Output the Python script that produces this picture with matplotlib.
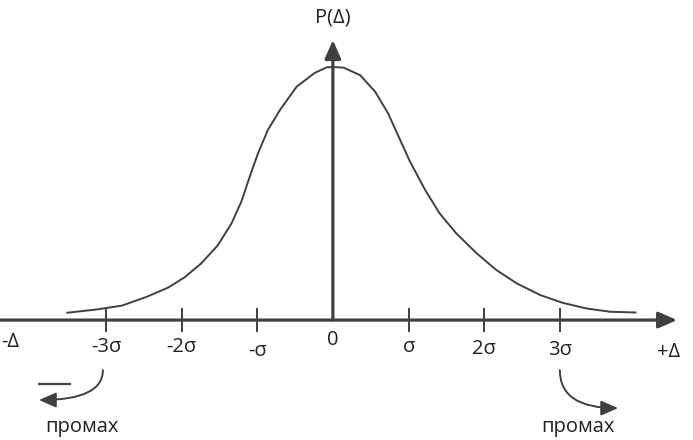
import numpy as np
import matplotlib
matplotlib.use("Agg")
import matplotlib.pyplot as plt

# curve, x in sigma units, height relative to peak
x_sigma = [-3.51, -3.12, -2.79, -2.46, -2.18, -1.96, -1.74, -1.52, -1.34, -1.21,
           -1.10, -0.99, -0.86, -0.70, -0.48, -0.24, -0.08, 0.00, 0.14, 0.36,
           0.56, 0.73, 0.89, 1.02, 1.22, 1.41, 1.63, 1.90, 2.16, 2.43,
           2.74, 3.04, 3.35, 3.66, 4.00]
p_vals = [0.029, 0.042, 0.057, 0.092, 0.128, 0.169, 0.224, 0.296, 0.382, 0.468,
          0.566, 0.659, 0.751, 0.830, 0.922, 0.977, 0.999, 1.000, 0.998, 0.968,
          0.902, 0.817, 0.711, 0.626, 0.514, 0.422, 0.343, 0.264, 0.198, 0.145,
          0.099, 0.068, 0.046, 0.033, 0.030]

tick_pos = [-3, -2, -1, 0, 1, 2, 3]
tick_labels = ["-3σ", "-2σ", "-σ", "0", "σ", "2σ", "3σ"]
label_y = [-0.105, -0.105, -0.121, -0.079, -0.107, -0.115, -0.118]

col = "#404040"
txt = "#222222"
fs = 14.5
plt.rcParams["font.family"] = ["Open Sans", "DejaVu Sans"]

fig = plt.figure(figsize=(6.93, 4.40), dpi=100)
ax = fig.add_axes([0, 0, 1, 1])
ax.set_xlim(-4.40, 4.76)
ax.set_ylim(-0.474, 1.265)
ax.axis("off")

# bell curve
ax.plot(x_sigma, p_vals, color=col, lw=1.4, zorder=2, solid_joinstyle="round")

# axes with arrow heads
axis_kw = dict(arrowstyle="-|>,head_length=0.8,head_width=0.35", color=col,
               lw=2.3, mutation_scale=14, shrinkA=0, shrinkB=0)
ax.annotate("", xy=(4.55, 0), xytext=(-4.40, 0), arrowprops=axis_kw, zorder=3)
ax.annotate("", xy=(0, 1.107), xytext=(0, 0), arrowprops=axis_kw, zorder=3)

# ticks
ax.vlines([t for t in tick_pos if t != 0], -0.047, 0.047, color=col, lw=1.4)
for t, lab, ly in zip(tick_pos, tick_labels, label_y):
    ax.text(t, ly, lab, ha="center", va="center", fontsize=fs, color=txt)

ax.text(-4.27, -0.087, "-Δ", ha="center", va="center", fontsize=fs, color=txt)
ax.text(4.44, -0.126, "+Δ", ha="center", va="center", fontsize=fs, color=txt)
ax.text(0, 1.194, "P(Δ)", ha="center", va="center", fontsize=fs, color=txt)

# outliers
arrow_kw = dict(arrowstyle="-|>,head_length=0.8,head_width=0.35", color=col,
                lw=1.4, mutation_scale=13, shrinkA=0, shrinkB=0,
                connectionstyle="angle3,angleA=90,angleB=0")
ax.annotate("", xy=(-3.885, -0.316), xytext=(-3.04, -0.198), arrowprops=arrow_kw)
ax.annotate("", xy=(3.77, -0.348), xytext=(3.0, -0.198), arrowprops=arrow_kw)
ax.hlines(-0.253, -3.90, -3.46, color=col, lw=1.6)
ax.text(-3.32, -0.423, "промах", ha="center", va="center", fontsize=fs, color=txt)
ax.text(3.24, -0.423, "промах", ha="center", va="center", fontsize=fs, color=txt)

fig.savefig("out.png", dpi=100)
